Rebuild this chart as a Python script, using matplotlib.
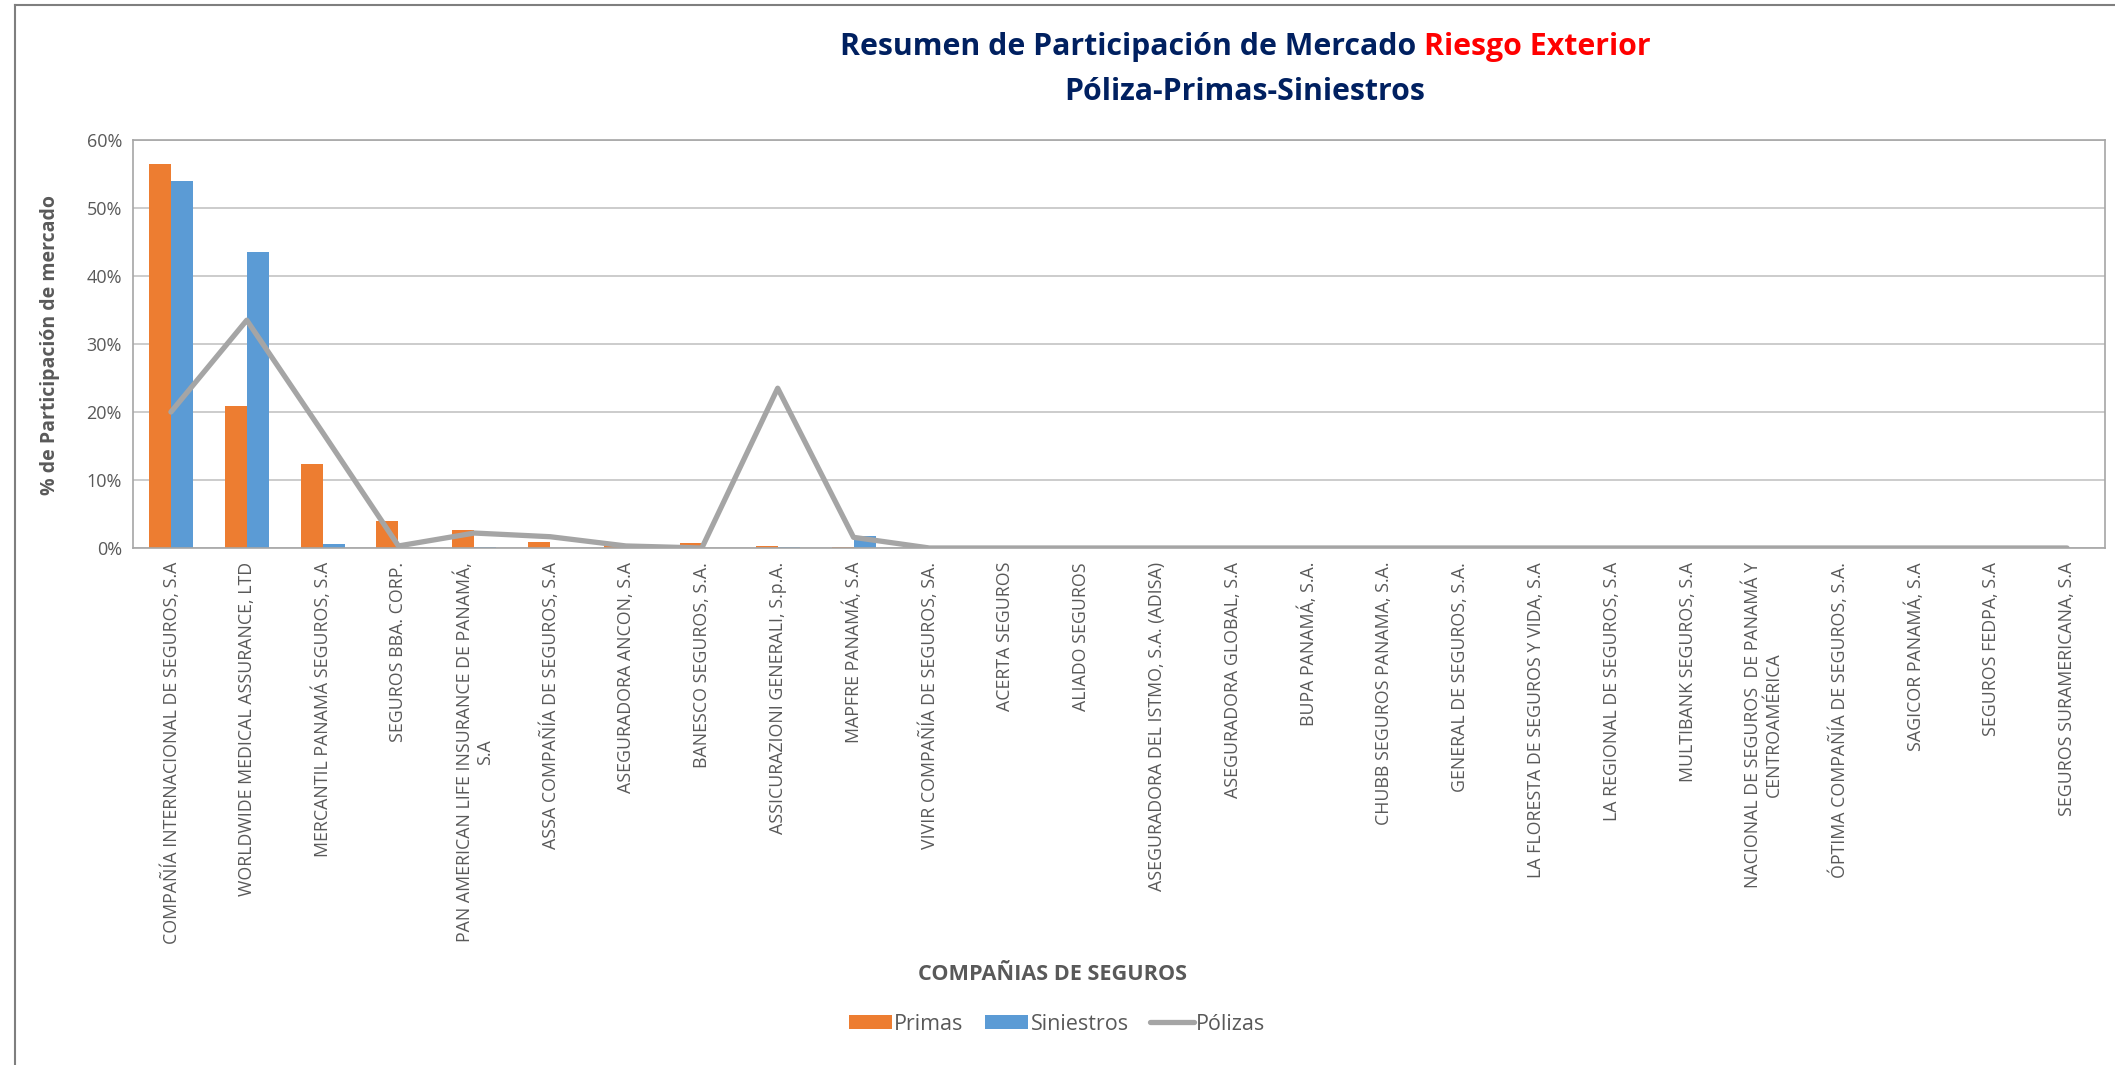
import matplotlib
matplotlib.use("Agg")
import matplotlib.pyplot as plt
import numpy as np
from matplotlib.ticker import PercentFormatter, MultipleLocator
from matplotlib.lines import Line2D
from matplotlib.patches import Patch

plt.rcParams['font.family'] = ['Open Sans', 'DejaVu Sans']

companias = [
    "COMPAÑÍA INTERNACIONAL DE SEGUROS, S.A",
    "WORLDWIDE MEDICAL ASSURANCE, LTD",
    "MERCANTIL PANAMÁ SEGUROS, S.A",
    "SEGUROS BBA. CORP.",
    "PAN AMERICAN LIFE INSURANCE DE PANAMÁ,\nS.A",
    "ASSA COMPAÑÍA DE SEGUROS, S.A",
    "ASEGURADORA ANCON, S.A",
    "BANESCO SEGUROS, S.A.",
    "ASSICURAZIONI GENERALI, S.p.A.",
    "MAPFRE PANAMÁ, S.A",
    "VIVIR COMPAÑÍA DE SEGUROS, SA.",
    "ACERTA SEGUROS",
    "ALIADO SEGUROS",
    "ASEGURADORA DEL ISTMO, S.A. (ADISA)",
    "ASEGURADORA GLOBAL, S.A",
    "BUPA PANAMÁ, S.A.",
    "CHUBB SEGUROS PANAMA, S.A.",
    "GENERAL DE SEGUROS, S.A.",
    "LA FLORESTA DE SEGUROS Y VIDA, S.A",
    "LA REGIONAL DE SEGUROS, S.A",
    "MULTIBANK SEGUROS, S.A",
    "NACIONAL DE SEGUROS  DE PANAMÁ Y\nCENTROAMÉRICA",
    "ÓPTIMA COMPAÑÍA DE SEGUROS, S.A.",
    "SAGICOR PANAMÁ, S.A",
    "SEGUROS FEDPA, S.A",
    "SEGUROS SURAMERICANA, S.A",
]

primas = [56.4, 20.9, 12.3, 3.9, 2.65, 0.9, 0.6, 0.7, 0.3, 0.1,
          0, 0, 0, 0, 0, 0, 0, 0, 0, 0, 0, 0, 0, 0, 0, 0]
siniestros = [54.0, 43.5, 0.55, 0.0, 0.15, 0, 0, 0, 0.1, 1.8,
              0, 0, 0, 0, 0, 0, 0, 0, 0, 0, 0, 0, 0, 0, 0, 0]
polizas = [20.0, 33.5, 17.0, 0.3, 2.2, 1.66, 0.3, 0.0, 23.5, 1.57,
           0, 0, 0, 0, 0, 0, 0, 0, 0, 0, 0, 0, 0, 0, 0, 0]

C_ORANGE = '#ED7D31'
C_BLUE = '#5B9BD5'
C_GRAY = '#A5A5A5'
TXT = '#595959'

W, H = 2115, 1065
fig = plt.figure(figsize=(W / 100, H / 100), dpi=100)
ax = fig.add_axes([133 / W, 1 - 548 / H, (2105 - 133) / W, (548 - 140) / H])

x = np.arange(len(companias))
bw = 0.29
ax.bar(x - bw / 2, np.array(primas) / 100, width=bw, color=C_ORANGE, zorder=2, label='Primas')
ax.bar(x + bw / 2, np.array(siniestros) / 100, width=bw, color=C_BLUE, zorder=2, label='Siniestros')
ax.plot(x, np.array(polizas) / 100, color=C_GRAY, lw=3.8, solid_capstyle='round',
        solid_joinstyle='round', zorder=3, label='Pólizas')

ax.set_xlim(-0.5, len(companias) - 0.5)
ax.set_ylim(0, 0.6)
ax.yaxis.set_major_locator(MultipleLocator(0.1))
ax.yaxis.set_major_formatter(PercentFormatter(1.0, decimals=0))
ax.grid(axis='y', color='#C8C8C8', lw=1.3, zorder=0)
ax.set_axisbelow(True)
for s in ax.spines.values():
    s.set_color('#A6A6A6')
    s.set_linewidth(1.2)

ax.set_xticks(x)
ax.set_xticklabels(companias, rotation=90, fontsize=12.8, color=TXT,
                   ha='center', va='top', multialignment='center')
ax.tick_params(axis='x', length=0, pad=10)
ax.tick_params(axis='y', length=0, pad=8, labelsize=13, labelcolor=TXT)

fig.text(50 / W, 1 - 345 / H, '% de Participación de mercado', fontsize=14, fontweight='bold',
         color=TXT, rotation=90, ha='center', va='center')

fig.text(1052 / W, 1 - 974 / H, 'COMPAÑIAS DE SEGUROS', fontsize=15.6, fontweight='bold',
         color=TXT, ha='center', va='center')

# Title (two colours on first line)
navy = '#002060'
tsize = 21.8
renderer = fig.canvas.get_renderer()
p1 = 'Resumen de Participación de Mercado '
p2 = 'Riesgo Exterior'
t1 = fig.text(0, 0, p1, fontsize=tsize, fontweight='bold', color=navy)
t2 = fig.text(0, 0, p2, fontsize=tsize, fontweight='bold', color='#FF0000')
w1 = t1.get_window_extent(renderer).width
w2 = t2.get_window_extent(renderer).width
cx = 1245
left = cx - (w1 + w2) / 2
y1 = 1 - 47 / H
t1.set_position((left / W, y1)); t1.set_va('center'); t1.set_ha('left')
t2.set_position(((left + w1) / W, y1)); t2.set_va('center'); t2.set_ha('left')
fig.text(cx / W, 1 - 92 / H, 'Póliza-Primas-Siniestros', fontsize=tsize, fontweight='bold',
         color=navy, ha='center', va='center')

handles = [Patch(facecolor=C_ORANGE, edgecolor='none'),
           Patch(facecolor=C_BLUE, edgecolor='none'),
           Line2D([0], [0], color=C_GRAY, lw=3.8, solid_capstyle='round')]
leg = fig.legend(handles, ['Primas', 'Siniestros', 'Pólizas'], loc='center',
                 bbox_to_anchor=(1057 / W, 1 - 1024 / H), ncol=3, frameon=False,
                 fontsize=15.5, handlelength=2.0, handleheight=0.6, handletextpad=0.12,
                 columnspacing=1.0, labelcolor=TXT)

# outer chart border (top and left)
fig.add_artist(Line2D([15 / W, 1], [1 - 5 / H, 1 - 5 / H], transform=fig.transFigure,
                      color='#7F7F7F', lw=1.5))
fig.add_artist(Line2D([15 / W, 15 / W], [0, 1 - 5 / H], transform=fig.transFigure,
                      color='#7F7F7F', lw=1.5))

fig.savefig('out.png', dpi=100, facecolor='white')
